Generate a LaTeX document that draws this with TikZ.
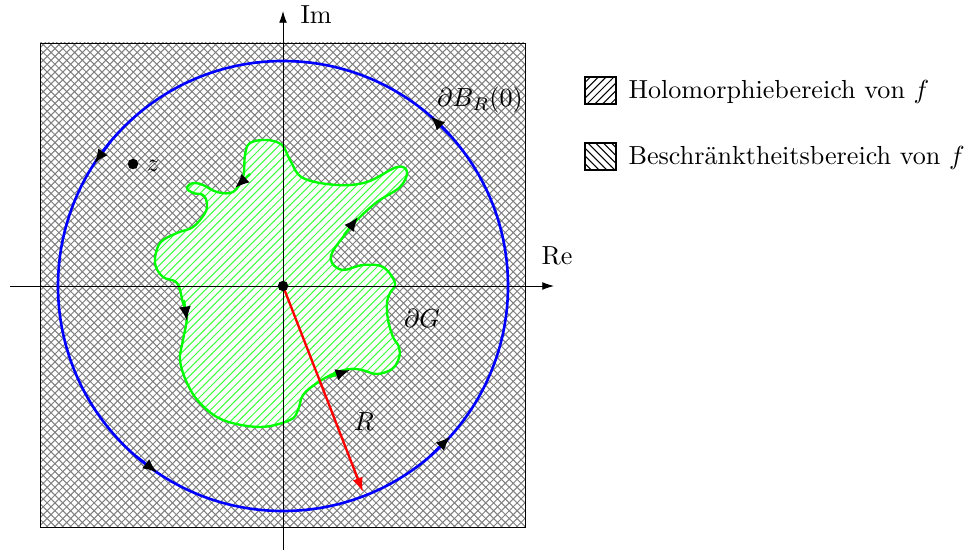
\documentclass[tikz,border=0pt]{standalone}
\usetikzlibrary{patterns,arrows.meta,calc}
\begin{document}
\begin{tikzpicture}[x={(0.383pt,0)},y={(0,-0.383pt)},
  axisline/.style={line width=0.35pt,-{Latex[length=4.5pt,width=3pt]}},
  circtip/.style={blue,line width=1pt,-{Latex[black,length=5.5pt,width=4.5pt]}},
  greentip/.style={green,line width=0.9pt,-{Latex[black,length=5.5pt,width=4.5pt]}},
  legbox/.style={draw=black,line width=0.5pt},
  dotmark/.style={circle,fill=black,inner sep=0pt,minimum size=4pt}]
\useasboundingbox (0,0) rectangle (974,550);
% hatched square
\path[pattern=crosshatch,pattern color=black!50] (40,43) rectangle (525,527);
\draw[line width=0.35pt] (40,43) rectangle (525,527);
% green region
\path[fill=white,
  postaction={pattern=north east lines,pattern color=green!75},
  postaction={draw=green,line width=0.9pt}]
  plot[smooth cycle,tension=0.6] coordinates {
  (267,140) (250,143) (245,155) (243,177) (233,192) (217,192) (203,185)
  (193,183) (187,188) (193,193) (203,195) (207,203) (205,213) (193,227)
  (177,233) (160,243) (155,263) (163,277) (177,283) (183,303) (187,317)
  (183,340) (180,360) (187,383) (200,403) (223,420) (260,427) (290,420)
  (298,410) (303,395) (317,383) (335,373) (350,369) (362,370) (377,374)
  (392,369) (399,358) (399,347) (393,337) (388,320) (387,303) (390,293)
  (395,283) (383,267) (363,265) (343,270) (332,263) (332,253) (343,237)
  (357,220) (377,202) (400,187) (407,172) (397,167) (367,182) (337,185)
  (303,178) (290,160) (282,145)};
% green arrows
\draw[greentip] (250,174) -- (235,188);
\draw[greentip] (344,235) -- (358,217);
\draw[greentip] (184,300) -- (187,321);
\draw[greentip] (330,377) -- (350,370);
% axes
\coordinate (O) at (283,286);
\coordinate (xs) at (10,286);
\coordinate (xe) at (554,286);
\coordinate (ys) at (283,550);
\coordinate (ye) at (283,11);
\draw[axisline] (xs) -- (xe);
\draw[axisline] (ys) -- (ye);
\node[anchor=base west,inner sep=0pt] (re) at (541,264) {Re};
\node[anchor=base west,inner sep=0pt] (im) at (300,24) {Im};
% circle
\draw[blue,line width=1pt] (O) circle (225);
\foreach \a in {49,147,236,318}{
  \draw[circtip] ($(O)+(-\a+7:225)$) -- ($(O)+(-\a:225)$);
}
\node (bd) at (480,100) {$\partial B_R(0)$};
% red radius
\coordinate (rt) at ($(O)+(68.8:221)$);
\draw[red,line width=0.9pt,-{Latex[length=5.5pt,width=4pt]}] (O) -- (rt);
\node (rl) at (364,422) {$R$};
% dots and labels
\node[dotmark] (o) at (O) {};
\node[dotmark] (zd) at (133,164) {};
\node (zl) at (153,166) {$z$};
\node (dg) at (422,318) {$\partial G$};
% legend
\draw[legbox,pattern=north east lines] (585,77) rectangle (616,104);
\draw[legbox,pattern=north west lines] (585,143) rectangle (616,170);
\node[anchor=base west,inner sep=0pt] (l1) at (628,99) {Holomorphiebereich von $f$};
\node[anchor=base west,inner sep=0pt] (l2) at (628,164) {Beschränktheitsbereich von $f$};
\end{tikzpicture}
\end{document}
